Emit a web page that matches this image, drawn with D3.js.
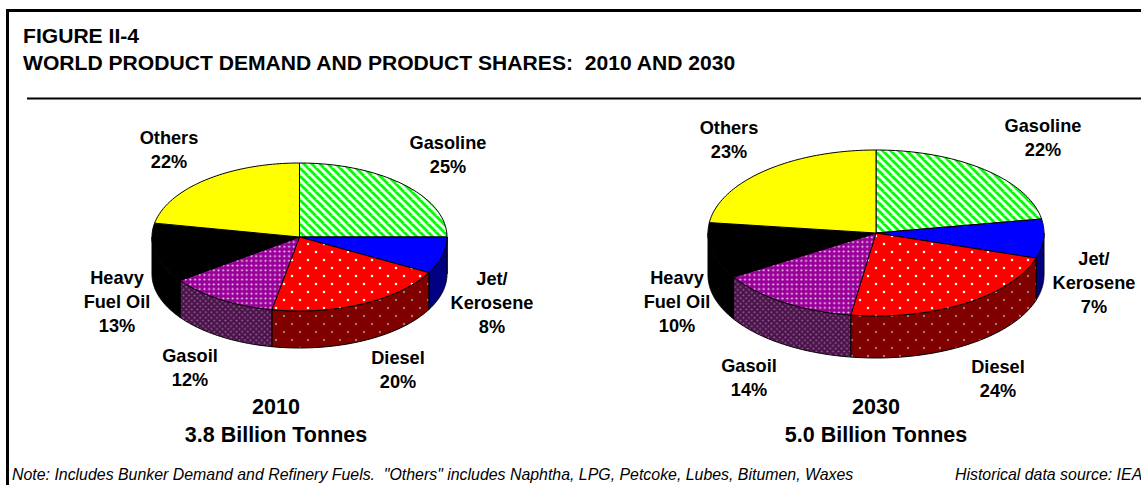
<!DOCTYPE html>
<html><head><meta charset="utf-8">
<script src="https://cdn.jsdelivr.net/npm/d3@7"></script>
<style>
html,body{margin:0;padding:0;background:#fff;overflow:hidden}
svg{display:block}
text{font-family:"Liberation Sans",Arial,sans-serif;fill:#000;white-space:pre}
.lab{font-weight:700;font-size:18.2px;text-anchor:middle}
.cap{font-weight:700;font-size:21.5px;text-anchor:middle}
.ttl{font-weight:700;font-size:21.1px}
.note{font-style:italic;font-size:15.9px}
</style></head><body>
<script>
const products = ["Gasoline","Jet/Kerosene","Diesel","Gasoil","Heavy Fuel Oil","Others"];
const years = ["2010","2030"];
const tonnes = ["3.8 Billion Tonnes","5.0 Billion Tonnes"];
const labels2010 = [25,8,20,12,13,22];
const labels2030 = [22,7,24,14,10,23];
// slice shares as drawn (read from the slice edges)
const slices2010 = [25,8,20,12,13,22];
const slices2030 = [22.3,7.6,22.5,13.7,10.9,23];
const titleLines = ["FIGURE II-4","WORLD PRODUCT DEMAND AND PRODUCT SHARES:  2010 AND 2030"];
const noteLeft = 'Note: Includes Bunker Demand and Refinery Fuels.  "Others" includes Naphtha, LPG, Petcoke, Lubes, Bitumen, Waxes';
const noteRight = "Historical data source: IEA";
const topFills = ["url(#pGreen)","#0000ff","url(#pRed)","url(#pPurple)","#000000","#ffff00"];
const sideFills = ["#808080","#000080","url(#pRedD)","url(#pPurpleD)","#000000","#808000"];

const W=1141,H=485;
const svg=d3.select("body").append("svg").attr("width",W).attr("height",H);
const defs=svg.append("defs");
function dots(id,w,h,bg,col,r,pts){
  const p=defs.append("pattern").attr("id",id).attr("patternUnits","userSpaceOnUse").attr("width",w).attr("height",h);
  p.append("rect").attr("width",w).attr("height",h).attr("fill",bg);
  pts.forEach(q=>p.append("circle").attr("cx",q[0]).attr("cy",q[1]).attr("r",r).attr("fill",col));
}
dots("pRed",16,16,"#ff0000","#fff",1.25,[[4,4],[12,12]]);
dots("pRedD",16,16,"#800000","#9a7a7a",1.2,[[4,4],[12,12]]);
dots("pPurple",4.7,4.7,"#990099","#f0d8f0",1.05,[[2.35,2.35]]);
dots("pPurpleD",5.6,5.6,"#4d104d","#857085",1.0,[[1.4,1.4],[4.2,4.2]]);
const g=defs.append("pattern").attr("id","pGreen").attr("patternUnits","userSpaceOnUse").attr("width",8).attr("height",8);
g.append("rect").attr("width",8).attr("height",8).attr("fill","#fff");
g.append("path").attr("d","M-4,0L4,8M0,-4L12,8").attr("stroke","#00ff00").attr("stroke-width",2.9);

const frame=svg.append("g");
frame.append("path").attr("d",`M7.5,${H}V10.5H${W}`).attr("fill","none").attr("stroke","#000").attr("stroke-width",3);
frame.append("line").attr("x1",27).attr("x2",W).attr("y1",98.5).attr("y2",98.5).attr("stroke","#000").attr("stroke-width",2);

svg.selectAll(".ttl").data(titleLines).join("text").attr("class","ttl").attr("x",23)
  .attr("y",(d,i)=>[42.5,70][i]).text(d=>d);

const pies=[
 {shares:slices2010,labs:labels2010,cx:299.5,cy:237,rx:147.5,ry:74,depth:37,
  pos:[[448,149],[492,285],[398,364],[190,362],[117,284],[169,144]]},
 {shares:slices2030,labs:labels2030,cx:876,cy:233,rx:168,ry:83,depth:42,
  pos:[[1043,132],[1094,265],[998,373],[749,372],[677,284],[729,134]]}
];
const lines=[["Gasoline"],["Jet/","Kerosene"],["Diesel"],["Gasoil"],["Heavy","Fuel Oil"],["Others"]];
const pieGen=d3.pie().sort(null).startAngle(0).endAngle(2*Math.PI);

pies.forEach((P,pi)=>{
  const x=d3.scaleLinear().domain([-1,1]).range([P.cx-P.rx,P.cx+P.rx]);
  const y=d3.scaleLinear().domain([-1,1]).range([P.cy-P.ry,P.cy+P.ry]);
  const pt=(a,dy=0)=>[x(Math.sin(a)),y(-Math.cos(a))+dy];
  const line=d3.line();
  const samples=(a0,a1,dy=0)=>d3.range(0,61).map(i=>pt(a0+(a1-a0)*i/60,dy));
  const arcs=pieGen(P.shares);
  const G=svg.append("g");
  arcs.forEach((d,i)=>{
    const a0=Math.max(d.startAngle,Math.PI/2),a1=Math.min(d.endAngle,3*Math.PI/2);
    if(a1<=a0) return;
    const pts=samples(a0,a1).concat(samples(a1,a0,P.depth));
    G.append("path").attr("d",line(pts)+"Z").attr("fill",sideFills[i])
      .attr("stroke","#000").attr("stroke-width",1).attr("stroke-linejoin","round");
  });
  arcs.forEach((d,i)=>{
    const pts=[[x(0),y(0)]].concat(samples(d.startAngle,d.endAngle));
    G.append("path").attr("d",line(pts)+"Z").attr("fill",topFills[i])
      .attr("stroke","#000").attr("stroke-width",1).attr("stroke-linejoin","round");
  });
  lines.forEach((ls,i)=>{
    const all=ls.concat([P.labs[i]+"%"]);
    all.forEach((t,k)=>svg.append("text").attr("class","lab").attr("x",P.pos[i][0])
      .attr("y",P.pos[i][1]+k*24).text(t));
  });
  const capX=[276,876][pi];
  svg.append("text").attr("class","cap").attr("x",capX).attr("y",414).text(years[pi]);
  svg.append("text").attr("class","cap").attr("x",capX).attr("y",441.5).text(tonnes[pi]);
});

svg.append("text").attr("class","note").attr("x",12).attr("y",480).text(noteLeft);
svg.append("text").attr("class","note").attr("x",955).attr("y",480).text(noteRight);
</script>
</body></html>
